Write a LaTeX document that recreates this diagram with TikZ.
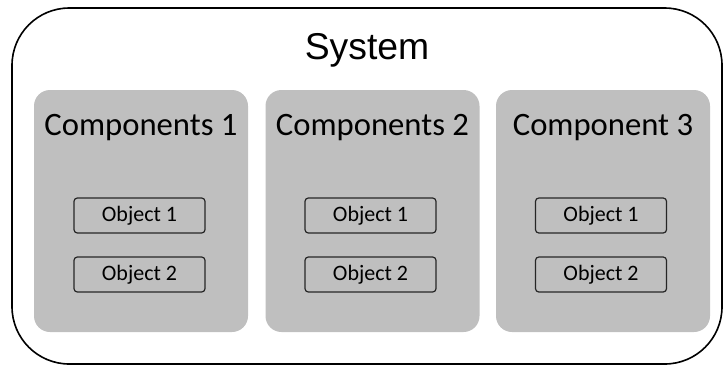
\documentclass[tikz,border=0pt]{standalone}
\usepackage{fontspec}
\setmainfont{Carlito}
\newfontfamily\arialfont{Liberation Sans}
\definecolor{compgray}{RGB}{191,191,191}
\tikzset{
  system/.style={draw=black, line width=1.2pt, rounded corners=43pt, minimum width=532.5pt, minimum height=267pt, inner sep=0pt},
  comp/.style={fill=compgray, rounded corners=12pt, minimum width=160.5pt, minimum height=181.5pt, inner sep=0pt},
  comptitle/.style={anchor=base, font=\fontsize{24.5}{28}\selectfont, inner sep=0pt},
  object/.style={draw=black!85, line width=0.9pt, rounded corners=2.5pt, minimum width=98.25pt, minimum height=26.25pt, inner sep=0pt, font=\fontsize{16.5}{19}\selectfont}
}
\begin{document}
\begin{tikzpicture}[x=0.75pt, y=-0.75pt]
\useasboundingbox (0,0) rectangle (724,369);
\node[system] (S) at (367,186) {};
\node[anchor=base, inner sep=0pt, font=\arialfont\fontsize{28}{32}\selectfont] (Stitle) at (367,59) {System};
\node[comp] (C1) at (141,211) {};
\node[comp] (C2) at (372.5,211) {};
\node[comp] (C3) at (603,211) {};
\node[comptitle] (C1title) at (141,135) {Components 1};
\node[comptitle] (C2title) at (372.5,135) {Components 2};
\node[comptitle] (C3title) at (603,135) {Component 3};
\node[object] (O11) at (139.5,215.5) {Object 1};
\node[object] (O12) at (139.5,274.5) {Object 2};
\node[object] (O21) at (370.5,215.5) {Object 1};
\node[object] (O22) at (370.5,274.5) {Object 2};
\node[object] (O31) at (601,215.5) {Object 1};
\node[object] (O32) at (601,274.5) {Object 2};
\end{tikzpicture}
\end{document}
